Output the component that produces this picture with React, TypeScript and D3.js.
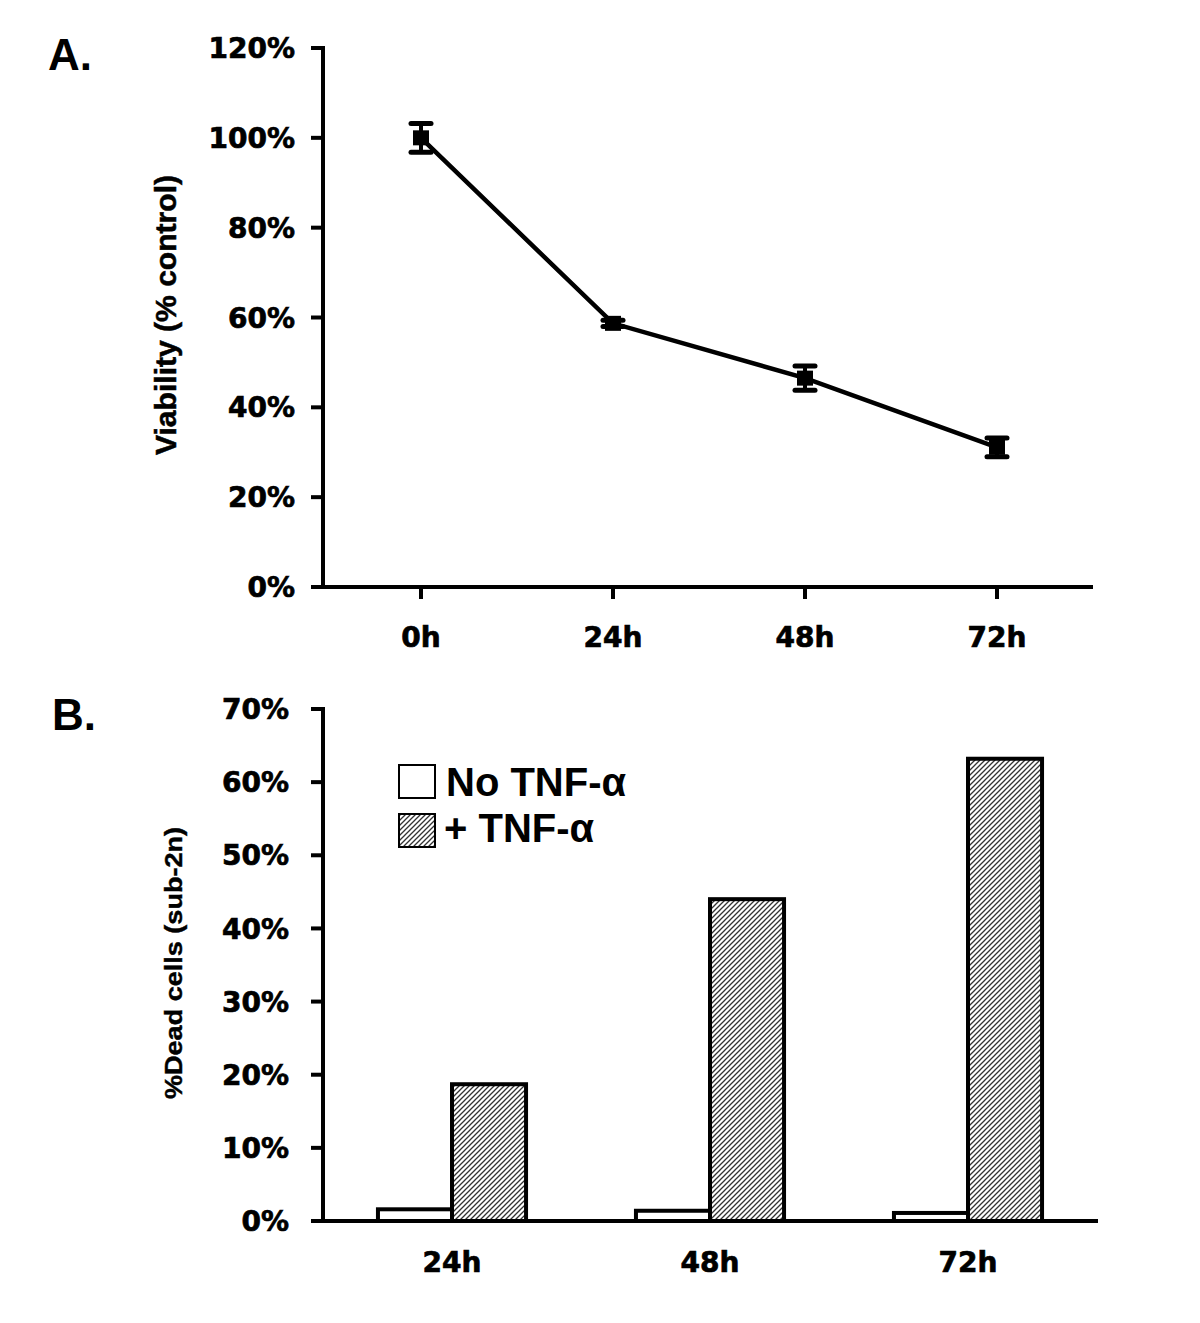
import React from "react";
import * as d3 from "d3";

// Panel A data
const timeCats = ["0h", "24h", "48h", "72h"];
const viability = [1.0, 0.587, 0.465, 0.311];
const viabilityErr = [0.032, 0.007, 0.027, 0.021];
const viabilityTicks = [0, 0.2, 0.4, 0.6, 0.8, 1.0, 1.2];

// Panel B data
const deadCats = ["24h", "48h", "72h"];
const seriesNames = ["No TNF-α", "+ TNF-α"];
const noTnf = [0.016, 0.014, 0.011];
const plusTnf = [0.187, 0.44, 0.632];
const deadTicks = [0, 0.1, 0.2, 0.3, 0.4, 0.5, 0.6, 0.7];

const W = 1200;
const H = 1323;
const tickFont = "'DejaVu Sans', sans-serif";
const labelFont = "'Liberation Sans', Arial, sans-serif";

export default function App() {
  // Panel A scales
  const xA = d3.scaleBand<string>().domain(timeCats).range([325, 1093]);
  const yA = d3.scaleLinear().domain([0, 1.2]).range([587, 48]);
  const pct = d3.format(".0%");
  const line = d3
    .line<number>()
    .x((_, i) => (xA(timeCats[i]) as number) + xA.bandwidth() / 2)
    .y((d) => yA(d));

  // Panel B scales
  const xB = d3
    .scaleBand<string>()
    .domain(deadCats)
    .range([323, 1097])
    .paddingInner(0.426)
    .paddingOuter(0.213);
  const xB1 = d3.scaleBand<string>().domain(seriesNames).range([0, xB.bandwidth()]);
  const yB = d3.scaleLinear().domain([0, 0.7]).range([1221, 709]);
  const seriesVals = [noTnf, plusTnf];

  const tickText = {
    fontFamily: tickFont,
    fontWeight: "bold" as const,
    fontSize: 28,
    stroke: "#000",
    strokeWidth: 0.7,
  };

  return (
    <svg width={W} height={H} style={{ display: "block", position: "absolute", left: 0, top: 0 }}>
      <defs>
        <pattern id="hatch" patternUnits="userSpaceOnUse" width={5} height={5}>
          <rect width={5} height={5} fill="#fff" />
          <path d="M-1,1 l2,-2 M0,5 l5,-5 M4,6 l2,-2" stroke="#333" strokeWidth={1.3} />
        </pattern>
      </defs>
      <rect width={W} height={H} fill="#fff" />

      {/* Panel A */}
      <text x={48} y={70} fontFamily={labelFont} fontWeight="bold" fontSize={44}>A.</text>
      <g>
        {viabilityTicks.map((t) => (
          <g key={t}>
            <line x1={311} x2={323} y1={yA(t)} y2={yA(t)} stroke="#000" strokeWidth={4} />
            <text x={295} y={yA(t)} dy="0.36em" textAnchor="end" {...tickText}>
              {pct(t)}
            </text>
          </g>
        ))}
        <line x1={323} x2={323} y1={46} y2={589} stroke="#000" strokeWidth={4} />
        <line x1={311} x2={1093} y1={587} y2={587} stroke="#000" strokeWidth={4} />
        {timeCats.map((c) => {
          const cx = (xA(c) as number) + xA.bandwidth() / 2;
          return (
            <g key={c}>
              <line x1={cx} x2={cx} y1={587} y2={599} stroke="#000" strokeWidth={4} />
              <text x={cx} y={647} textAnchor="middle" {...tickText}>
                {c}
              </text>
            </g>
          );
        })}
        <text
          transform={`translate(166,315) rotate(-90)`}
          textAnchor="middle"
          dominantBaseline="central"
          fontFamily={labelFont}
          fontWeight="bold"
          fontSize={29}
          textLength={280}
          lengthAdjust="spacingAndGlyphs"
          stroke="#000"
          strokeWidth={0.5}
        >
          Viability (% control)
        </text>
        <path d={line(viability) || ""} fill="none" stroke="#000" strokeWidth={4.5} />
        {viability.map((v, i) => {
          const cx = (xA(timeCats[i]) as number) + xA.bandwidth() / 2;
          const e = viabilityErr[i];
          return (
            <g key={i}>
              <line x1={cx} x2={cx} y1={yA(v + e)} y2={yA(v - e)} stroke="#000" strokeWidth={4} />
              <line x1={cx - 10} x2={cx + 10} y1={yA(v + e)} y2={yA(v + e)} stroke="#000" strokeWidth={5} strokeLinecap="round" />
              <line x1={cx - 10} x2={cx + 10} y1={yA(v - e)} y2={yA(v - e)} stroke="#000" strokeWidth={5} strokeLinecap="round" />
              <rect x={cx - 8} y={yA(v) - 7.5} width={16} height={15} fill="#000" />
            </g>
          );
        })}
      </g>

      {/* Panel B */}
      <text x={52} y={730} fontFamily={labelFont} fontWeight="bold" fontSize={44}>B.</text>
      <g>
        {deadTicks.map((t) => (
          <g key={t}>
            <line x1={311} x2={323} y1={yB(t)} y2={yB(t)} stroke="#000" strokeWidth={4} />
            <text x={289} y={yB(t)} dy="0.36em" textAnchor="end" {...tickText}>
              {pct(t)}
            </text>
          </g>
        ))}
        {deadCats.map((c, i) => (
          <g key={c}>
            {seriesNames.map((s, j) => {
              const v = seriesVals[j][i];
              const x = (xB(c) as number) + (xB1(s) as number);
              return (
                <rect
                  key={s}
                  x={x}
                  y={yB(v)}
                  width={xB1.bandwidth()}
                  height={yB(0) - yB(v)}
                  fill={j === 0 ? "#fff" : "url(#hatch)"}
                  stroke="#000"
                  strokeWidth={4}
                />
              );
            })}
            <text
              x={(xB(c) as number) + xB.bandwidth() / 2}
              y={1272}
              textAnchor="middle"
              {...tickText}
            >
              {c}
            </text>
          </g>
        ))}
        <line x1={323} x2={323} y1={707} y2={1223} stroke="#000" strokeWidth={4} />
        <line x1={311} x2={1098} y1={1221} y2={1221} stroke="#000" strokeWidth={4} />
        <text
          transform={`translate(174,963) rotate(-90)`}
          textAnchor="middle"
          dominantBaseline="central"
          fontFamily={labelFont}
          fontWeight="bold"
          fontSize={23}
          textLength={272}
          lengthAdjust="spacingAndGlyphs"
          stroke="#000"
          strokeWidth={0.4}
        >
          %Dead cells (sub-2n)
        </text>
        {/* Legend */}
        {seriesNames.map((s, j) => (
          <g key={s}>
            <rect
              x={399}
              y={765 + j * 49}
              width={36}
              height={33}
              fill={j === 0 ? "#fff" : "url(#hatch)"}
              stroke="#000"
              strokeWidth={2}
            />
            <text x={j === 0 ? 446 : 444} y={796 + j * 46} fontFamily={labelFont} fontWeight="bold" fontSize={40}>
              {s}
            </text>
          </g>
        ))}
      </g>
    </svg>
  );
}
